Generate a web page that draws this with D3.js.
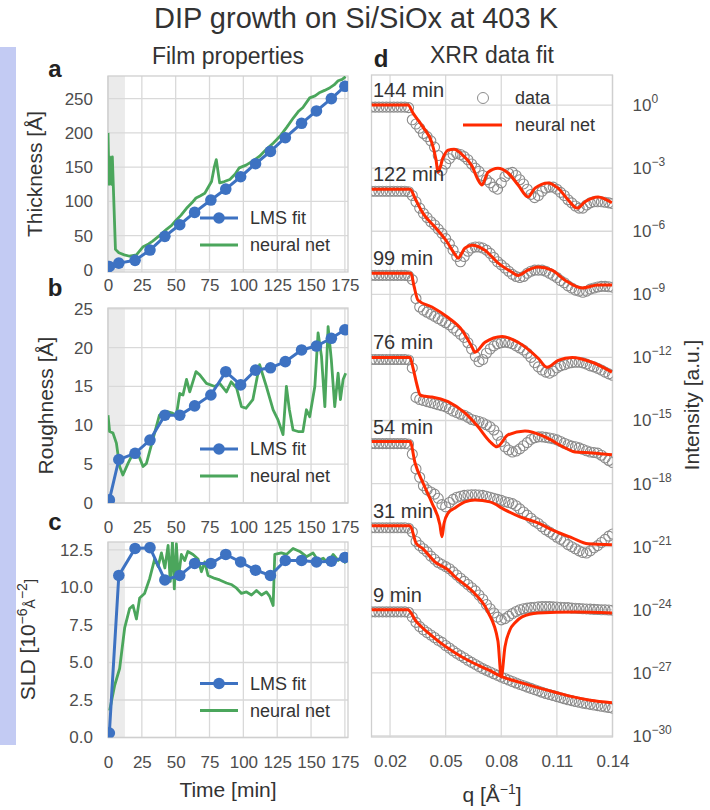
<!DOCTYPE html>
<html>
<head>
<meta charset="utf-8">
<script src="https://cdn.jsdelivr.net/npm/d3@7"></script>
<style>
  body { margin: 0; background: #fff; }
  svg { display: block; }
  text { font-family: "Liberation Sans", Arial, sans-serif; }
</style>
</head>
<body>
<svg id="chart" width="710" height="810"></svg>
<script>
// ---- film properties (panels a-c) ----
const timeTicks = [0, 25, 50, 75, 100, 125, 150, 175];

const lmsTime = [1, 8, 20, 31, 42, 53, 64, 76, 87, 98, 109, 120, 131, 143, 154, 165, 175];
const lmsThickness = [5, 10, 14, 29, 49, 66, 84, 102, 118, 136, 155, 173, 193, 214, 232, 250, 268];
const lmsRoughness = [0.4, 5.6, 6.4, 8.1, 11.3, 11.3, 12.5, 13.9, 16.9, 15.2, 17.1, 17.4, 18.2, 19.7, 20.2, 21.2, 22.3];
const lmsSld = [0.3, 10.8, 12.6, 12.65, 10.5, 10.8, 11.6, 11.6, 12.2, 11.7, 11.15, 10.8, 11.8, 11.8, 11.7, 11.75, 12.0];

const nnThickTime = [0, 0.8, 1.2, 2, 2.5, 3.2, 5.5, 8, 12, 16, 21, 26, 30, 33, 38, 43, 47, 50.5, 54, 58,
  62, 65, 68, 71.5, 76.5, 78.5, 80, 82.5, 86, 90, 94, 97, 102, 107, 112, 117, 122, 127, 132, 137,
  141, 144, 149, 153, 156.5, 160, 164, 167, 170, 173, 175.5];
const nnThickness = [200, 125, 165, 160, 125, 165, 30, 25, 22, 20, 22, 34, 38, 42, 50, 59, 65, 73, 80, 90,
  98, 105, 108, 112, 129, 150, 161, 127, 129, 132, 140, 149, 153, 159, 166, 176, 185, 195, 208, 222,
  232, 237, 251, 254, 259, 262, 266, 270, 276, 278, 282];

const nnRoughTime = [0, 1.2, 3.7, 6.2, 8.6, 11, 14.8, 19.7, 22, 25.9, 28.4, 33, 38, 43, 47, 50.5, 53, 55.4,
  58, 60.4, 65, 67.8, 72.7, 78.9, 82.5, 87.5, 91, 95, 98.6, 102, 107, 112, 117, 122, 125.6, 129.3,
  131.8, 134, 136.7, 140.4, 144, 146.6, 149, 152.8, 155.2, 157.7, 160.2, 162.6, 165, 167.5, 170,
  171.7, 173.7, 175.6];
const nnRoughness = [11.3, 9.2, 9.0, 7.7, 4.7, 3.6, 5.1, 6.8, 6.4, 4.7, 5.1, 8.1, 11.3, 11.8, 11.6, 11.3, 14.1, 13.9,
  15.9, 14.3, 16.9, 16.5, 15.4, 15.0, 15.4, 14.3, 15.6, 14.8, 12.4, 12.2, 13.3, 17.8, 15.0, 12.0, 10.7, 8.8,
  15.0, 12.0, 9.4, 9.2, 9.2, 12.0, 11.1, 15.0, 21.9, 18.9, 12.4, 22.7, 18.4, 12.4, 16.7,
  13.3, 15.9, 16.7];

const nnSldTime = [1.2, 5, 8.6, 12.3, 16, 18.5, 21, 23.4, 27, 30.8, 34.5, 37, 39.5, 42, 44.4, 46, 47.6, 49,
  50.5, 52, 54.2, 56.7, 59, 62.8, 66.5, 69, 71.5, 73.9, 78.9, 82.5, 87.5, 91, 95, 98.6, 102.3, 106,
  109.7, 113.4, 117, 119.5, 122, 123.2, 128, 131.8, 136.7, 141.7, 146.6, 151.5, 155.2, 159, 162.6,
  166.3, 170, 173.2, 175.6];
const nnSld = [1.8, 3.5, 4.6, 7.3, 8.6, 8.8, 7.9, 9.3, 9.6, 10.6, 11.9, 11.4, 12.3, 11.3, 12.8, 10.4, 13.05, 9.9,
  12.9, 10.6, 12.2, 11.8, 12.4, 12.2, 11.9, 11.05, 11.7, 10.8, 10.6, 10.5, 10.3, 10.2, 9.95, 9.6, 9.7, 9.5,
  9.8, 9.5, 9.7, 9.4, 8.8, 12.2, 12.3, 12.2, 12.6, 12.4, 12.05, 12.3, 11.8, 11.95, 11.6,
  12.2, 11.8, 12.05, 11.6];

// ---- XRR curves (panel d), log10 of intensity before the vertical offset ----
const curveLabels = ["144 min", "122 min", "99 min", "76 min", "54 min", "31 min", "9 min"];
const curveOffsets = [0, -4, -8, -12, -16, -20, -24];
const qTicks = [0.02, 0.05, 0.08, 0.11, 0.14];
const expTicks = [0, -3, -6, -9, -12, -15, -18, -21, -24, -27, -30];

const qData = [0.010, 0.012, 0.014, 0.016, 0.018, 0.020, 0.022, 0.024, 0.026, 0.028,
  0.030, 0.032, 0.034, 0.036, 0.038, 0.040, 0.042, 0.044, 0.046, 0.048,
  0.050, 0.052, 0.054, 0.056, 0.058, 0.060, 0.062, 0.064, 0.066, 0.068,
  0.070, 0.072, 0.074, 0.076, 0.078, 0.080, 0.082, 0.084, 0.086, 0.088,
  0.090, 0.092, 0.094, 0.096, 0.098, 0.100, 0.102, 0.104, 0.106, 0.108,
  0.110, 0.112, 0.114, 0.116, 0.118, 0.120, 0.122, 0.124, 0.126, 0.128,
  0.130, 0.132, 0.134, 0.136, 0.138, 0.140];

const xrr144 = [-0.1, -0.1, -0.1, -0.1, -0.1, -0.1, -0.1, -0.1, -0.1, -0.1,
  -0.12, -0.7, -0.9, -1.1, -1.35, -1.5, -1.7, -2.0, -2.4, -3.1,
  -2.8, -2.55, -2.35, -2.3, -2.35, -2.45, -2.6, -2.8, -3.0, -3.15,
  -3.35, -3.55, -3.7, -3.9, -4.0, -3.7, -3.4, -3.25, -3.2, -3.35,
  -3.55, -3.75, -4.0, -4.25, -4.4, -4.3, -4.1, -3.95, -3.9, -3.9,
  -4.0, -4.15, -4.3, -4.5, -4.65, -4.8, -4.9, -4.9, -4.75, -4.65,
  -4.6, -4.6, -4.6, -4.62, -4.65, -4.68];
const xrr122 = [-0.1, -0.1, -0.1, -0.1, -0.1, -0.1, -0.1, -0.1, -0.1, -0.1,
  -0.12, -0.3, -0.6, -0.9, -1.15, -1.35, -1.55, -1.7, -1.9, -2.1,
  -2.35, -2.6, -2.9, -3.2, -3.45, -3.2, -2.95, -2.8, -2.75, -2.75,
  -2.8, -2.9, -3.05, -3.25, -3.45, -3.6, -3.75, -3.9, -4.05, -4.15,
  -4.2, -4.15, -4.0, -3.9, -3.85, -3.85, -3.85, -3.9, -4.0, -4.1,
  -4.2, -4.35, -4.45, -4.6, -4.7, -4.8, -4.85, -4.9, -4.85, -4.75,
  -4.7, -4.65, -4.62, -4.62, -4.64, -4.66];
const xrr99 = [-0.1, -0.1, -0.1, -0.1, -0.1, -0.1, -0.1, -0.1, -0.1, -0.1,
  -0.12, -0.3, -1.2, -1.6, -1.75, -1.85, -1.95, -2.05, -2.15, -2.25,
  -2.35, -2.45, -2.6, -2.75, -2.9, -3.05, -3.3, -3.6, -3.95, -4.2,
  -4.1, -3.8, -3.6, -3.45, -3.35, -3.3, -3.28, -3.3, -3.35, -3.45,
  -3.55, -3.65, -3.8, -4.0, -4.25, -4.45, -4.6, -4.7, -4.75, -4.65,
  -4.5, -4.4, -4.35, -4.28, -4.25, -4.23, -4.23, -4.26, -4.32, -4.4,
  -4.45, -4.52, -4.6, -4.7, -4.78, -4.85];
const xrr76 = [-0.1, -0.1, -0.1, -0.1, -0.1, -0.1, -0.1, -0.1, -0.1, -0.1,
  -0.12, -0.5, -1.9, -2.0, -2.05, -2.1, -2.15, -2.2, -2.25, -2.3,
  -2.35, -2.45, -2.55, -2.62, -2.7, -2.75, -2.85, -2.95, -3.0, -3.05,
  -3.11, -3.2, -3.3, -3.45, -3.7, -4.0, -4.25, -4.4, -4.5, -4.45,
  -4.35, -4.2, -4.05, -3.9, -3.82, -3.78, -3.78, -3.8, -3.83, -3.87,
  -3.92, -4.0, -4.08, -4.15, -4.22, -4.25, -4.3, -4.37, -4.44, -4.5,
  -4.52, -4.55, -4.65, -4.78, -4.9, -5.0];
const xrr54 = [-0.1, -0.1, -0.1, -0.1, -0.1, -0.1, -0.1, -0.1, -0.1, -0.1,
  -0.12, -0.6, -1.3, -1.7, -2.1, -2.3, -2.4, -2.5, -2.7, -3.0,
  -3.1, -2.9, -2.75, -2.65, -2.6, -2.56, -2.54, -2.53, -2.53, -2.54,
  -2.56, -2.6, -2.65, -2.7, -2.75, -2.8, -2.86, -2.9, -2.95, -3.05,
  -3.2, -3.35, -3.5, -3.65, -3.8, -3.9, -4.05, -4.2, -4.3, -4.42,
  -4.55, -4.65, -4.75, -4.9, -5.0, -5.1, -5.2, -5.28, -5.3, -5.2,
  -5.05, -4.95, -4.8, -4.65, -4.5, -4.4];
const xrr31 = [-0.1, -0.1, -0.1, -0.1, -0.1, -0.1, -0.1, -0.1, -0.1, -0.1,
  -0.12, -0.3, -0.75, -0.95, -1.1, -1.25, -1.45, -1.6, -1.75, -1.85,
  -1.95, -2.05, -2.2, -2.35, -2.5, -2.65, -2.8, -2.95, -3.1, -3.3,
  -3.5, -3.75, -3.95, -4.15, -4.35, -4.48, -4.42, -4.3, -4.18, -4.08,
  -4.0, -3.95, -3.92, -3.9, -3.88, -3.86, -3.85, -3.85, -3.85, -3.86,
  -3.87, -3.88, -3.89, -3.9, -3.92, -3.93, -3.94, -3.95, -3.96, -3.97,
  -3.98, -3.99, -4.0, -4.0, -4.01, -4.02];
const xrr9 = [-0.1, -0.1, -0.1, -0.1, -0.1, -0.1, -0.1, -0.1, -0.1, -0.1,
  -0.12, -0.35, -0.6, -0.8, -0.95, -1.08, -1.2, -1.32, -1.45, -1.55,
  -1.7, -1.82, -1.95, -2.07, -2.18, -2.28, -2.4, -2.5, -2.6, -2.7,
  -2.8, -2.88, -2.96, -3.04, -3.12, -3.2, -3.27, -3.34, -3.41, -3.48,
  -3.55, -3.61, -3.68, -3.74, -3.8, -3.86, -3.92, -3.98, -4.03, -4.08,
  -4.13, -4.18, -4.23, -4.28, -4.32, -4.36, -4.4, -4.44, -4.47, -4.5,
  -4.53, -4.56, -4.59, -4.62, -4.65, -4.68];

// neural net fits: own q points and log10 intensity
const nn144Q = [0.010, 0.0297, 0.0324, 0.0378, 0.0426, 0.0448, 0.0459, 0.0486, 0.0513, 0.0545, 0.0594, 0.0642, 0.0675,
  0.0696, 0.0728, 0.0782, 0.0837, 0.0891, 0.0945, 0.0982, 0.1053, 0.1106, 0.1160, 0.1209, 0.1252, 0.1322, 0.1397];
const nn144 = [0, 0, -0.38, -1.05, -1.8, -2.6, -3.2, -2.5, -2.14, -2.1, -2.4, -2.9, -3.56,
  -3.8, -3.2, -3.0, -3.23, -3.8, -4.37, -3.95, -3.7, -3.95, -4.5, -4.9, -4.6, -4.37, -4.65];
const nn122Q = [0.010, 0.0308, 0.0335, 0.0378, 0.0442, 0.0507, 0.0550, 0.0567, 0.0604, 0.0642, 0.0712,
  0.0782, 0.0858, 0.0890, 0.0944, 0.0998, 0.1073, 0.1144, 0.1236, 0.1322, 0.1398];
const nn122 = [0, 0, -0.44, -1.15, -1.8, -2.5, -3.1, -3.28, -2.8, -2.66, -2.9,
  -3.5, -3.95, -4.1, -3.85, -3.7, -3.85, -4.33, -4.7, -4.56, -4.56];
const nn99Q = [0.010, 0.0313, 0.0329, 0.0351, 0.0426, 0.0513, 0.0588, 0.0642, 0.0658, 0.0712, 0.0805,
  0.0890, 0.0999, 0.1047, 0.1107, 0.1182, 0.1290, 0.1397];
const nn99 = [0, 0, -0.6, -1.28, -1.6, -2.1, -2.7, -3.5, -3.75, -3.28, -3.0,
  -3.28, -4.04, -4.47, -4.14, -4.0, -4.23, -4.7];
const nn76Q = [0.010, 0.0308, 0.0324, 0.0345, 0.0362, 0.0389, 0.0426, 0.0513, 0.0604, 0.0675, 0.0739,
  0.0777, 0.0836, 0.0928, 0.1036, 0.1144, 0.1198, 0.1290, 0.1397];
const nn76 = [0, 0, -0.5, -1.3, -1.78, -1.85, -1.88, -2.1, -2.64, -3.3, -4.0,
  -4.25, -3.68, -3.5, -3.78, -4.3, -4.5, -4.54, -4.63];
const nn54Q = [0.010, 0.0308, 0.0335, 0.0378, 0.0426, 0.0469, 0.0480, 0.0491, 0.0513, 0.0550, 0.0604,
  0.0658, 0.0739, 0.0820, 0.0901, 0.0998, 0.1074, 0.1182, 0.1268, 0.1397];
const nn54 = [0, 0, -1.02, -1.97, -2.92, -3.96, -4.53, -3.9, -3.4, -3.16, -2.87,
  -2.78, -2.87, -3.25, -3.58, -3.87, -4.2, -4.58, -4.86, -4.91];
const nn31Q = [0.010, 0.0308, 0.0340, 0.0378, 0.0442, 0.0513, 0.0550, 0.0642, 0.0728, 0.0782, 0.0800,
  0.0820, 0.0847, 0.0874, 0.0912, 0.0998, 0.1198, 0.1397];
const nn31 = [0, 0, -0.82, -1.1, -1.72, -2.1, -2.43, -3.1, -4.1, -5.48, -7.19,
  -5.76, -4.95, -4.62, -4.34, -4.15, -4.1, -4.15];
const nn9Q = [0.010, 0.0297, 0.0313, 0.0335, 0.0362, 0.0405, 0.0469, 0.0550, 0.0631, 0.0728, 0.0803,
  0.0901, 0.0998, 0.1090, 0.1182, 0.1279, 0.1397];
const nn9 = [0, 0, -0.15, -0.48, -0.75, -1.09, -1.55, -2.04, -2.45, -2.85, -3.18,
  -3.45, -3.7, -3.92, -4.13, -4.3, -4.42];

const xrrCurves = [xrr144, xrr122, xrr99, xrr76, xrr54, xrr31, xrr9];
const nnQs = [nn144Q, nn122Q, nn99Q, nn76Q, nn54Q, nn31Q, nn9Q];
const nnCurves = [nn144, nn122, nn99, nn76, nn54, nn31, nn9];

const blue = "#3d72c2", green = "#4ba65c", red = "#ff2a00";
const gridColor = "#d9d9d9", tickColor = "#4d4d4d", labelColor = "#333";

const svg = d3.select("#chart");

// side band
svg.append("rect").attr("x", 0).attr("y", 47).attr("width", 16).attr("height", 698).attr("fill", "#c3cbf3");

svg.append("text").attr("x", 356).attr("y", 28).attr("text-anchor", "middle")
  .attr("font-size", 29).attr("fill", labelColor).text("DIP growth on Si/SiOx at 403 K");
svg.append("text").attr("x", 228).attr("y", 64).attr("text-anchor", "middle")
  .attr("font-size", 23).attr("fill", labelColor).text("Film properties");
svg.append("text").attr("x", 492).attr("y", 63).attr("text-anchor", "middle")
  .attr("font-size", 23).attr("fill", labelColor).text("XRR data fit");

const tx = d3.scaleLinear().domain([0, 177.3]).range([108, 348]);

function filmPanel(p) {
  const y = d3.scaleLinear().domain(p.yDomain).range([p.bottom, p.top]);
  const g = svg.append("g");
  const clipId = "clip-" + p.letter;
  g.append("clipPath").attr("id", clipId).append("rect")
    .attr("x", tx(0)).attr("y", p.top).attr("width", tx(177.3) - tx(0)).attr("height", p.bottom - p.top);

  g.append("rect").attr("x", tx(0)).attr("y", p.top).attr("width", tx(12.5) - tx(0))
    .attr("height", p.bottom - p.top).attr("fill", "#ebebeb");

  g.append("g").selectAll("line").data(timeTicks).join("line")
    .attr("x1", d => tx(d)).attr("x2", d => tx(d)).attr("y1", p.top).attr("y2", p.bottom)
    .attr("stroke", gridColor).attr("stroke-width", 1.3);
  g.append("g").selectAll("line").data(p.yTicks).join("line")
    .attr("x1", tx(0)).attr("x2", tx(177.3)).attr("y1", d => y(d)).attr("y2", d => y(d))
    .attr("stroke", gridColor).attr("stroke-width", 1.3);
  g.append("rect").attr("x", tx(0)).attr("y", p.top).attr("width", tx(177.3) - tx(0))
    .attr("height", p.bottom - p.top).attr("fill", "none").attr("stroke", "#cfcfcf").attr("stroke-width", 1.3);

  const xa = g.append("g").attr("transform", `translate(0,${p.bottom})`)
    .call(d3.axisBottom(tx).tickValues(timeTicks).tickSize(0).tickPadding(p.xPad));
  const ya = g.append("g").attr("transform", `translate(${tx(0)},0)`)
    .call(d3.axisLeft(y).tickValues(p.yTicks).tickSize(0).tickPadding(15).tickFormat(p.yFmt));
  [xa, ya].forEach(a => {
    a.select(".domain").remove();
    a.selectAll("text").attr("font-size", 17).attr("fill", tickColor)
      .style("font-family", '"Liberation Sans", Arial, sans-serif');
  });

  const plot = g.append("g").attr("clip-path", `url(#${clipId})`);
  const nnPts = p.nnT.map((t, i) => [t, p.nnY[i]]);
  plot.append("path").datum(nnPts)
    .attr("d", d3.line().x(d => tx(d[0])).y(d => y(d[1])))
    .attr("fill", "none").attr("stroke", green).attr("stroke-width", 2.8).attr("stroke-linejoin", "round");
  const lmsPts = lmsTime.map((t, i) => [t, p.lmsY[i]]);
  plot.append("path").datum(lmsPts)
    .attr("d", d3.line().x(d => tx(d[0])).y(d => y(d[1])))
    .attr("fill", "none").attr("stroke", blue).attr("stroke-width", 3);
  plot.append("g").selectAll("circle").data(lmsPts).join("circle")
    .attr("cx", d => tx(d[0])).attr("cy", d => y(d[1])).attr("r", 5.8).attr("fill", blue);

  // legend
  const ly = p.bottom - 54;
  g.append("line").attr("x1", 200).attr("x2", 238).attr("y1", ly).attr("y2", ly)
    .attr("stroke", blue).attr("stroke-width", 3);
  g.append("circle").attr("cx", 219).attr("cy", ly).attr("r", 5.8).attr("fill", blue);
  g.append("text").attr("x", 250).attr("y", ly).attr("dy", "0.35em").attr("font-size", 18)
    .attr("fill", labelColor).text("LMS fit");
  g.append("line").attr("x1", 200).attr("x2", 238).attr("y1", ly + 27).attr("y2", ly + 27)
    .attr("stroke", green).attr("stroke-width", 3);
  g.append("text").attr("x", 250).attr("y", ly + 27).attr("dy", "0.35em").attr("font-size", 18)
    .attr("fill", labelColor).text("neural net");

  // labels
  const yl = g.append("text").attr("transform", `translate(${p.labelX},${(p.top + p.bottom) / 2}) rotate(-90)`)
    .attr("text-anchor", "middle").attr("dy", "0.35em").attr("font-size", 21).attr("fill", labelColor);
  p.ylabel.forEach(part => {
    const ts = yl.append("tspan").text(part[0]);
    if (part[1]) ts.attr("font-size", 14).attr("dy", part[1]);
  });
  g.append("text").attr("x", 55).attr("y", p.letterY).attr("text-anchor", "middle")
    .attr("font-size", 24).attr("font-weight", "bold").attr("fill", "#222").text(p.letter);
}

filmPanel({ letter: "a", letterY: 77, top: 76, bottom: 272, yDomain: [-3, 283],
  yTicks: [0, 50, 100, 150, 200, 250], yFmt: d3.format("d"), xPad: 7,
  lmsY: lmsThickness, nnT: nnThickTime, nnY: nnThickness, labelX: 35,
  ylabel: [["Thickness [Å]"]] });
filmPanel({ letter: "b", letterY: 296, top: 308, bottom: 503, yDomain: [0, 25.1],
  yTicks: [0, 5, 10, 15, 20, 25], yFmt: d3.format("d"), xPad: 18,
  lmsY: lmsRoughness, nnT: nnRoughTime, nnY: nnRoughness, labelX: 46,
  ylabel: [["Roughness [Å]"]] });
filmPanel({ letter: "c", letterY: 530, top: 542, bottom: 737.5, yDomain: [0, 13.03],
  yTicks: [0, 2.5, 5, 7.5, 10, 12.5], yFmt: d3.format(".1f"), xPad: 18,
  lmsY: lmsSld, nnT: nnSldTime, nnY: nnSld, labelX: 28,
  ylabel: [["SLD [10"], ["−6", -8], ["Å", 8], ["−2", -8], ["]", 8]] });

svg.append("text").attr("x", 228).attr("y", 797).attr("text-anchor", "middle")
  .attr("font-size", 21).attr("fill", labelColor).text("Time [min]");

// ---- panel d ----
const qx = d3.scaleLinear().domain([0.01, 0.14]).range([371.5, 612.5]);
const iy = d3.scaleLog().domain([Math.pow(10, -30.05), Math.pow(10, 1.43)]).range([737, 75]);
const gd = svg.append("g");
gd.append("clipPath").attr("id", "clip-d").append("rect")
  .attr("x", qx(0.01)).attr("y", iy.range()[1]).attr("width", qx(0.14) - qx(0.01)).attr("height", 737 - 75);

gd.append("g").selectAll("line").data(qTicks).join("line")
  .attr("x1", d => qx(d)).attr("x2", d => qx(d)).attr("y1", 75).attr("y2", 737)
  .attr("stroke", gridColor).attr("stroke-width", 1.3);
gd.append("g").selectAll("line").data(expTicks).join("line")
  .attr("x1", qx(0.01)).attr("x2", qx(0.14)).attr("y1", d => iy(Math.pow(10, d))).attr("y2", d => iy(Math.pow(10, d)))
  .attr("stroke", gridColor).attr("stroke-width", 1.3);
gd.append("rect").attr("x", qx(0.01)).attr("y", 75).attr("width", qx(0.14) - qx(0.01)).attr("height", 737 - 75)
  .attr("fill", "none").attr("stroke", "#cfcfcf").attr("stroke-width", 1.3);

const qa = gd.append("g").attr("transform", "translate(0,737)")
  .call(d3.axisBottom(qx).tickValues(qTicks).tickSize(0).tickPadding(18).tickFormat(d3.format(".2f")));
qa.select(".domain").remove();
qa.selectAll("text").attr("font-size", 17).attr("fill", tickColor);

const ia = gd.append("g").attr("transform", `translate(${qx(0.14)},0)`)
  .call(d3.axisRight(iy).tickValues(expTicks.map(e => Math.pow(10, e))).tickSize(0).tickPadding(20).tickFormat(""));
ia.select(".domain").remove();
ia.selectAll(".tick text").each(function (d) {
  const e = Math.round(Math.log10(d));
  const t = d3.select(this).attr("font-size", 17).attr("fill", tickColor);
  t.append("tspan").text("10");
  t.append("tspan").attr("dy", -8).attr("font-size", 12).text(e === 0 ? "0" : "−" + (-e));
});

const pd = gd.append("g").attr("clip-path", "url(#clip-d)");
xrrCurves.forEach((c, k) => {
  pd.append("g").selectAll("circle").data(c).join("circle")
    .attr("cx", (d, i) => qx(qData[i])).attr("cy", d => iy(Math.pow(10, d + curveOffsets[k])))
    .attr("r", 5).attr("fill", "none").attr("stroke", "#8c8c8c").attr("stroke-width", 1.1);
});
const nnLine = d3.line().x(d => qx(d[0])).y(d => iy(d[1])).curve(d3.curveMonotoneX);
nnCurves.forEach((c, k) => {
  const pts = c.map((v, i) => [nnQs[k][i], Math.pow(10, v + curveOffsets[k])]);
  pd.append("path").datum(pts).attr("d", nnLine)
    .attr("fill", "none").attr("stroke", red).attr("stroke-width", 3);
});
curveLabels.forEach((lab, k) => {
  gd.append("text").attr("x", 373).attr("y", iy(Math.pow(10, curveOffsets[k])) - 8)
    .attr("font-size", 20).attr("fill", labelColor).text(lab);
});

// legend d
gd.append("circle").attr("cx", 483).attr("cy", 98).attr("r", 5.5).attr("fill", "none").attr("stroke", "#8c8c8c");
gd.append("text").attr("x", 515).attr("y", 98).attr("dy", "0.35em").attr("font-size", 18)
  .attr("fill", labelColor).text("data");
gd.append("line").attr("x1", 463).attr("x2", 502).attr("y1", 125).attr("y2", 125)
  .attr("stroke", red).attr("stroke-width", 3);
gd.append("text").attr("x", 515).attr("y", 125).attr("dy", "0.35em").attr("font-size", 18)
  .attr("fill", labelColor).text("neural net");

gd.append("text").attr("x", 381).attr("y", 67).attr("text-anchor", "middle")
  .attr("font-size", 24).attr("font-weight", "bold").attr("fill", "#222").text("d");

const ql = gd.append("text").attr("x", 492).attr("y", 802).attr("text-anchor", "middle")
  .attr("font-size", 21).attr("fill", labelColor);
ql.append("tspan").text("q [Å");
ql.append("tspan").attr("dy", -8).attr("font-size", 14).text("−1");
ql.append("tspan").attr("dy", 8).text("]");

gd.append("text").attr("transform", "translate(692,405) rotate(-90)").attr("text-anchor", "middle")
  .attr("dy", "0.35em").attr("font-size", 21).attr("fill", labelColor).text("Intensity [a.u.]");
</script>
</body>
</html>
